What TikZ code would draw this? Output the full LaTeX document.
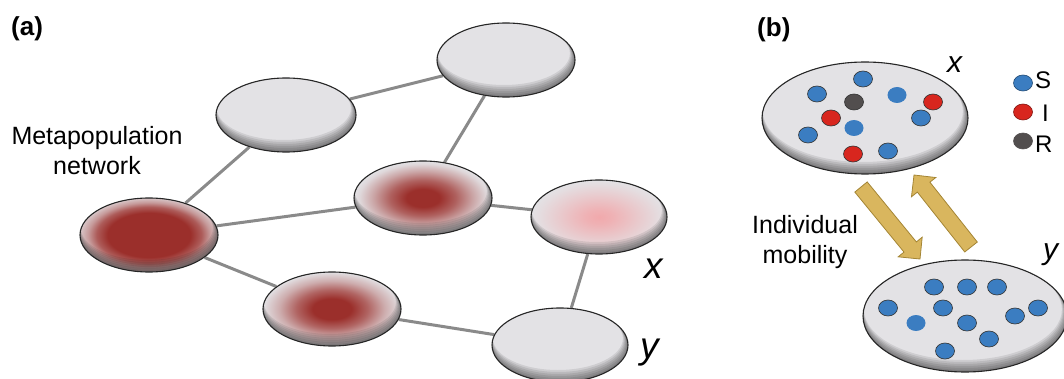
\documentclass[tikz,border=0pt]{standalone}
\usepackage{fontspec}
\setmainfont{Liberation Sans}
\usetikzlibrary{shapes.geometric,calc,backgrounds}
\definecolor{dred}{HTML}{9B2F2B}
\definecolor{lgray}{HTML}{E3E2E5}
\definecolor{pinkc}{HTML}{F1A9AC}
\definecolor{sblue}{HTML}{3B7DC1}
\definecolor{ired}{HTML}{D8261E}
\definecolor{rgrey}{HTML}{524E4E}
\definecolor{arrowc}{HTML}{D9B65E}
\definecolor{arrowe}{HTML}{A48534}
\definecolor{edgec}{HTML}{8A8A8A}
\colorlet{rA1}{dred!75!lgray}
\colorlet{rA2}{dred!40!lgray}
\colorlet{rA3}{dred!16!lgray}
\colorlet{rB1}{dred!72!lgray}
\colorlet{rB2}{dred!34!lgray}
\colorlet{rB3}{dred!6!lgray}
\colorlet{rC1}{dred!70!lgray}
\colorlet{rC2}{dred!30!lgray}
\colorlet{rP1}{pinkc!85!lgray}
\colorlet{rP2}{pinkc!40!lgray}
\colorlet{rP3}{pinkc!10!lgray}
\pgfdeclareradialshading{hotA}{\pgfpointorigin}{color(0bp)=(dred); color(15bp)=(dred); color(19bp)=(rA1); color(22bp)=(rA2); color(25bp)=(rA3); color(50bp)=(rA3)}
\pgfdeclareradialshading{hotB}{\pgfpointorigin}{color(0bp)=(dred); color(6bp)=(dred); color(12bp)=(rB1); color(18bp)=(rB2); color(23bp)=(rB3); color(25bp)=(lgray); color(50bp)=(lgray)}
\pgfdeclareradialshading{hotC}{\pgfpointorigin}{color(0bp)=(dred); color(7bp)=(dred); color(13bp)=(rC1); color(19bp)=(rC2); color(24bp)=(rB3); color(25bp)=(lgray); color(50bp)=(lgray)}
\pgfdeclareradialshading{hotD}{\pgfpointorigin}{color(0bp)=(pinkc); color(5bp)=(rP1); color(15bp)=(rP2); color(22bp)=(rP3); color(25bp)=(lgray); color(50bp)=(lgray)}
\newcommand\blockarr[2]{%
  \coordinate (hb) at ($(#2)!15.5pt!(#1)$);
  \filldraw[fill=arrowc, draw=arrowe, line width=0.8pt, line join=miter]
    ($(#1)!8pt!90:(#2)$) -- ($(hb)!8pt!90:(#2)$) -- ($(hb)!15.5pt!90:(#2)$) -- (#2)
    -- ($(hb)!15.5pt!-90:(#2)$) -- ($(hb)!8pt!-90:(#2)$) -- ($(#1)!8pt!-90:(#2)$) -- cycle;}
\tikzset{
  cell/.style 2 args={ellipse, inner sep=0pt, minimum width={2*#1 pt}, minimum height={2*#2 pt},
    draw=black!85, line width=1.1pt, fill=lgray,
    path picture={
      \foreach \k in {1,...,6} {
        \fill[black, opacity=0.09, even odd rule]
          (path picture bounding box.center) ellipse [x radius={#1 pt}, y radius={#2 pt}]
          ([shift={(-0.35*\k pt, 1.1*\k pt)}]path picture bounding box.center)
             ellipse [x radius={#1 pt - 0.5*\k pt}, y radius={#2 pt - 0.9*\k pt}];
      }
    }},
  link/.style={draw=edgec, line width=3pt},
  dot/.style={ellipse, inner sep=0pt, minimum width=19pt, minimum height=16pt, draw=black!80, line width=0.6pt},
  nodot/.style={ellipse, inner sep=0pt, minimum width=19pt, minimum height=16pt, draw=none},
  lbl/.style={font=\fontsize{25}{30}\selectfont, align=center, inner sep=0pt},
  panel/.style={font=\bfseries\fontsize{26}{30}\selectfont, inner sep=0pt, anchor=base west},
  var/.style={font=\itshape\fontsize{37}{40}\selectfont, inner sep=0pt, anchor=base west},
  varb/.style={font=\itshape\fontsize{30}{32}\selectfont, inner sep=0pt, anchor=base west},
  leg/.style={font=\fontsize{24}{28}\selectfont, inner sep=0pt, anchor=base west},
}
\begin{document}
\begin{tikzpicture}[x=1pt, y=-1pt]
\useasboundingbox (0,0) rectangle (1064,379);
% panel (a)
\node[panel] (pa) at (11,36) {(a)};
\node[cell={69}{37}] (n1) at (506,60) {};
\node[cell={70}{37}] (n2) at (286,115) {};
\node[cell={69}{37}, shade, shading=hotA] (n3) at (149,235) {};
\node[cell={69}{37}, shade, shading=hotB] (n4) at (423,198) {};
\node[cell={68}{37}, shade, shading=hotD] (n5) at (599,217) {};
\node[cell={69}{37}, shade, shading=hotC] (n6) at (332,309) {};
\node[cell={68}{37}] (n7) at (560,345) {};
\begin{scope}[on background layer]
  \draw[link] (n2) -- (n1);
  \draw[link] (n3) -- (n2);
  \draw[link] (n1) -- (n4);
  \draw[link] (n3) -- (n4);
  \draw[link] (n3) -- (n6);
  \draw[link] (n4) -- (n5);
  \draw[link] (n5) -- (n7);
  \draw[link] (n6) -- (n7);
\end{scope}
\node[lbl, anchor=north] (meta) at (97,126) {Metapopulation\\network};
\node[var] (xa) at (644,278) {x};
\node[var] (ya) at (640,358) {y};
% panel (b)
\node[panel] (pb) at (757,37) {(b)};
\node[cell={103}{56}] (bx) at (865,118) {};
\node[cell={102}{56}] (by) at (965,316) {};
\node[varb] (xb) at (947,73) {x};
\node[varb] (yb) at (1043,259) {y};
% dots in x
\node[dot, fill=sblue] (x1) at (863,79) {};
\node[dot, fill=sblue] (x2) at (817,94) {};
\node[dot, fill=rgrey] (x3) at (854,102) {};
\node[nodot, fill=sblue] (x4) at (897,95) {};
\node[dot, fill=ired] (x5) at (933,102) {};
\node[dot, fill=ired] (x6) at (831,118) {};
\node[nodot, fill=sblue] (x7) at (854,128) {};
\node[dot, fill=sblue] (x8) at (921,118) {};
\node[dot, fill=sblue] (x9) at (808,135) {};
\node[dot, fill=ired] (x10) at (853,154) {};
\node[dot, fill=sblue] (x11) at (888,151) {};
% dots in y
\node[dot, fill=sblue] (y1) at (934,287) {};
\node[dot, fill=sblue] (y2) at (967,287) {};
\node[dot, fill=sblue] (y3) at (997,287) {};
\node[dot, fill=sblue] (y4) at (888,308) {};
\node[dot, fill=sblue] (y5) at (943,308) {};
\node[dot, fill=sblue] (y6) at (1038,308) {};
\node[dot, fill=sblue] (y7) at (1015,316) {};
\node[nodot, fill=sblue] (y8) at (916,323) {};
\node[dot, fill=sblue] (y9) at (967,323) {};
\node[dot, fill=sblue] (y10) at (989,339) {};
\node[dot, fill=sblue] (y11) at (945,351) {};
% legend
\node[dot, fill=sblue, draw=sblue!60!black] (ls) at (1023,83) {};
\node[dot, fill=ired, draw=ired!60!black] (li) at (1023,112) {};
\node[dot, fill=rgrey, draw=rgrey] (lr) at (1023,141) {};
\node[leg] (ts) at (1035,89) {S};
\node[leg] (ti) at (1042,122) {I};
\node[leg] (tr) at (1035,153) {R};
% mobility arrows
\coordinate (d1) at (861,187);
\coordinate (d2) at (920,259);
\coordinate (u1) at (971,247);
\coordinate (u2) at (914,175);
\blockarr{d1}{d2}
\blockarr{u1}{u2}
\node[lbl, anchor=north] (mob) at (805,215) {Individual\\mobility};
\end{tikzpicture}
\end{document}
